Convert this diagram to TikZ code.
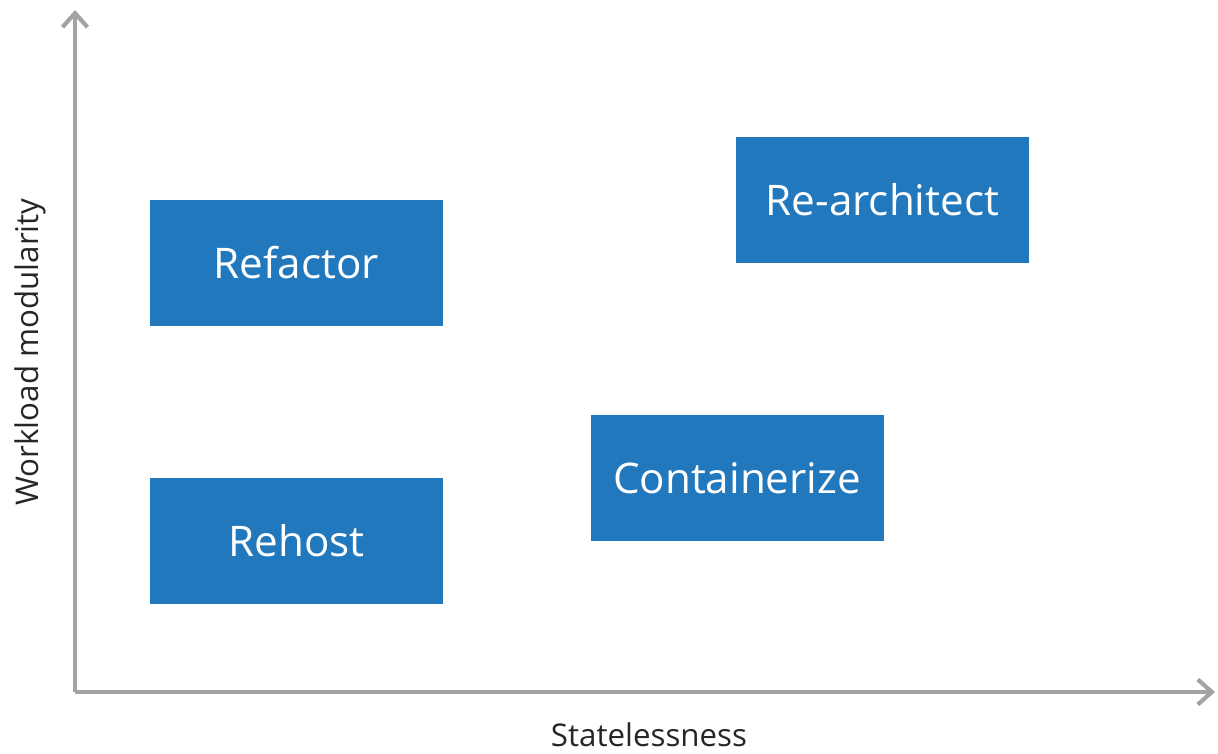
\documentclass[tikz,border=0pt]{standalone}
\usepackage{fontspec}
\setmainfont{Open Sans}
\usetikzlibrary{arrows.meta}
\definecolor{boxblue}{HTML}{2278BD}
\definecolor{axisgray}{HTML}{A3A3A3}
\tikzset{
  stage/.style={fill=boxblue,text=white,minimum width=5.86cm,minimum height=2.52cm,
    inner sep=0pt,font=\fontsize{24}{29}\selectfont},
  axis/.style={draw=axisgray,line width=2.4pt,-{Straight Barb[length=0.28cm,width=0.5cm,line width=2.4pt]}},
  axislabel/.style={font=\fontsize{17.8}{21}\selectfont,text=black!85}
}
\begin{document}
\begin{tikzpicture}
    \useasboundingbox (0,0) rectangle (24.36,15.06);
    % axes
    \coordinate (origin) at (1.5,1.22);
    \coordinate (ytop) at (1.5,14.86);
    \coordinate (xend) at (24.3,1.22);
    \draw[axis] (origin) -- (ytop);
    \draw[axis] (origin) -- (xend);
    \node[axislabel] (xlabel) at (12.98,0.36) {Statelessness};
    \node[axislabel,rotate=90] (ylabel) at (0.6,8.02) {Workload modularity};
    % migration options
    \node[stage] (refactor) at (5.93,9.8) {Refactor};
    \node[stage] (rehost) at (5.93,4.24) {Rehost};
    \node[stage] (containerize) at (14.74,5.5) {Containerize};
    \node[stage] (rearchitect) at (17.65,11.06) {Re-architect};
  \end{tikzpicture}
\end{document}
